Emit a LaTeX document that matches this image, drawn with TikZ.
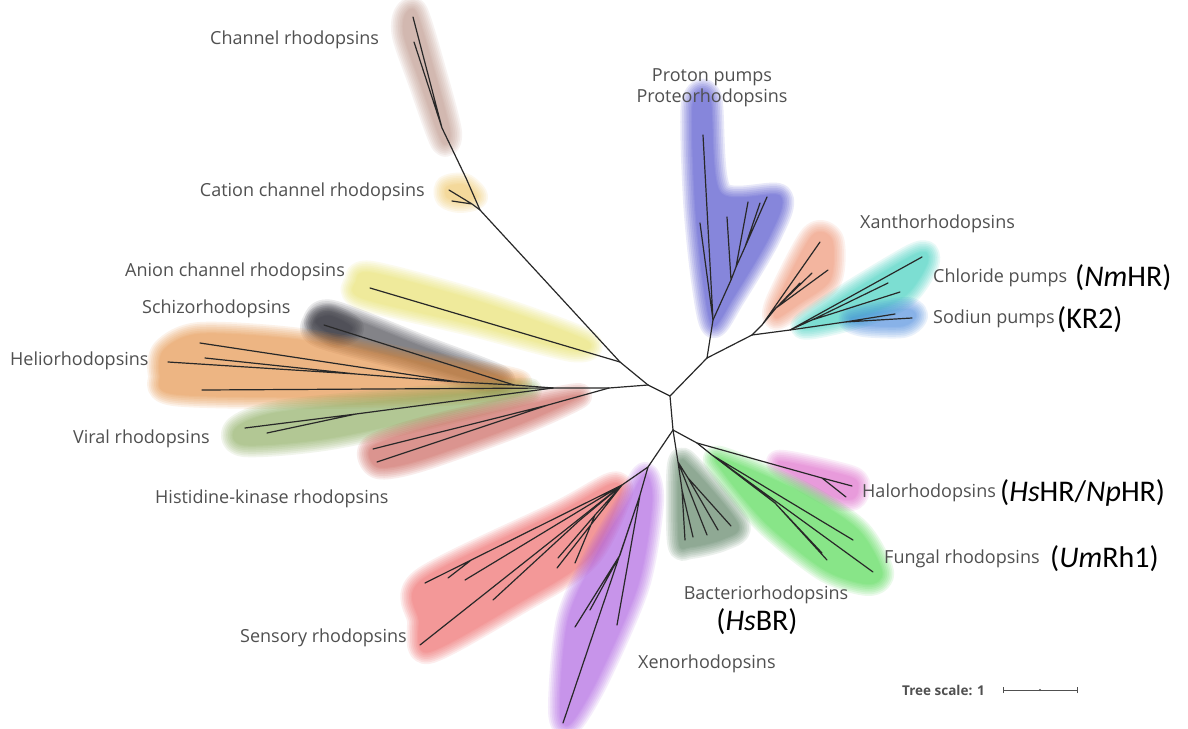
\documentclass[tikz,border=0pt]{standalone}
\usepackage{fontspec}
\newfontfamily\osans{Open Sans}
\newfontfamily\calib{Carlito}
\definecolor{labgray}{RGB}{80,80,80}
\definecolor{treec}{RGB}{40,40,40}
\definecolor{cChan}{RGB}{185,140,125}
\definecolor{cCat}{RGB}{240,195,90}
\definecolor{cAn}{RGB}{232,225,90}
\definecolor{cSch}{RGB}{50,50,60}
\definecolor{cHel}{RGB}{230,135,50}
\definecolor{cVir}{RGB}{130,165,80}
\definecolor{cHis}{RGB}{200,80,70}
\definecolor{cPro}{RGB}{55,55,200}
\definecolor{cXan}{RGB}{238,135,100}
\definecolor{cClo}{RGB}{40,205,185}
\definecolor{cNa}{RGB}{60,130,220}
\definecolor{cHal}{RGB}{220,90,200}
\definecolor{cFun}{RGB}{60,215,60}
\definecolor{cBac}{RGB}{70,115,80}
\definecolor{cSen}{RGB}{238,85,85}
\definecolor{cXen}{RGB}{165,80,225}
\newcommand\softblob[2]{%
  \foreach \w in {24,20.5,17,13.5,10,6.5,3,0.5}{%
    \begin{scope}[transparency group, opacity=0.105]
    \filldraw[fill=#1,draw=#1,line width=\w pt,line join=round]
      plot[smooth cycle,tension=0.5] coordinates {#2};
    \end{scope}}%
}
\tikzset{
  tree/.style={draw=treec, line width=1.2pt, line cap=round, line join=round},
  lab/.style={font=\osans\fontsize{18}{20}\selectfont, text=labgray, inner sep=0pt},
  blk/.style={font=\calib\fontsize{30}{34}\selectfont, text=black, inner sep=0pt},
}
\begin{document}
\begin{tikzpicture}[x=1pt,y=-1pt]
\useasboundingbox (0,0) rectangle (1188,728);
\fill[white] (0,0) rectangle (1188,728);

% ---------- soft clade backgrounds ----------
\softblob{cChan}{(405,15) (416,12) (434,70) (450,132) (442,142) (420,82) (404,36)}
\softblob{cCat}{(447,187) (464,185) (476,197) (460,201) (447,197)}
\softblob{cAn}{(356,282) (372,273) (480,302) (585,340) (572,350) (470,324) (362,298)}
\softblob{cSch}{(314,322) (332,312) (420,346) (500,377) (485,383) (400,358) (320,336)}
\softblob{cSch}{(316,322) (330,316) (352,328) (336,336)}
\softblob{cHel}{(164,350) (200,334) (300,340) (420,362) (520,382) (460,393) (320,397) (174,394) (160,375)}
\softblob{cVir}{(236,428) (280,412) (420,398) (530,390) (460,410) (330,438) (244,445)}
\softblob{cHis}{(372,447) (430,427) (540,402) (580,396) (520,424) (420,460) (378,467)}
\softblob{cPro}{(693,104) (710,98) (720,192) (780,196) (770,235) (733,298) (713,326) (703,280) (695,200)}
\softblob{cXan}{(812,236) (832,240) (830,280) (800,303) (776,318) (778,300)}
\softblob{cClo}{(803,325) (912,256) (928,261) (906,295) (860,316)}
\softblob{cNa}{(852,318) (905,309) (916,316) (903,326) (864,325)}
\softblob{cHal}{(778,462) (850,477) (858,489) (852,499) (830,495)}
\softblob{cFun}{(720,458) (800,492) (858,530) (882,572) (868,584) (825,570) (767,524) (724,473)}
\softblob{cBac}{(679,465) (692,468) (738,524) (723,539) (690,547) (679,542)}
\softblob{cSen}{(422,580) (560,512) (612,484) (620,496) (588,558) (520,602) (428,652) (419,620)}
\softblob{cXen}{(645,474) (652,502) (638,585) (598,678) (570,724) (560,710) (568,620) (596,556) (628,502)}

% ---------- tree nodes ----------
\coordinate (A) at (648,385);
\coordinate (B) at (670,396);
\coordinate (C) at (673,430);
\coordinate (D) at (707,358);
% upper left
\coordinate (Q1) at (620,362);
\coordinate (Q2) at (480,210);
\coordinate (Q3) at (466,178);
\coordinate (Q4) at (442,128);
\coordinate (ch1) at (413,17);
\coordinate (ch2) at (414,42);
\coordinate (CJ) at (472,204);
\coordinate (cat1) at (449,190);
\coordinate (cat2) at (452,201);
\coordinate (an1) at (370,288);
% left
\coordinate (H1) at (609,388);
\coordinate (H2) at (553,388);
\coordinate (H3) at (514,385);
\coordinate (H4) at (458,382);
\coordinate (HJ) at (356,374);
\coordinate (hl1) at (200,343);
\coordinate (hl2) at (168,362);
\coordinate (hl3) at (205,358);
\coordinate (hl4) at (202,390);
\coordinate (sz) at (324,325);
\coordinate (R1) at (548,405);
\coordinate (hk1) at (373,449);
\coordinate (hk2) at (377,462);
\coordinate (V1) at (356,414);
\coordinate (vr1) at (245,428);
\coordinate (vr2) at (267,433);
% upper right
\coordinate (P0) at (713,320);
\coordinate (pl1) at (703,135);
\coordinate (pl2) at (700,223);
\coordinate (P2) at (731,280);
\coordinate (P3) at (736,267);
\coordinate (P4) at (745,247);
\coordinate (pr1) at (767,197);
\coordinate (pr2) at (727,217);
\coordinate (pr3) at (748,202);
\coordinate (pr4) at (760,203);
\coordinate (X0) at (752,335);
\coordinate (XA) at (762,325);
\coordinate (XB) at (776,308);
\coordinate (xa1) at (820,242);
\coordinate (xa2) at (828,270);
\coordinate (xa3) at (812,273);
\coordinate (xa4) at (800,283);
\coordinate (CL) at (790,330);
\coordinate (CL2) at (812,320);
\coordinate (cl1) at (922,257);
\coordinate (cl2) at (888,283);
\coordinate (cl3) at (900,292);
\coordinate (NA) at (845,322);
\coordinate (na1) at (912,318);
\coordinate (na2) at (895,314);
% lower
\coordinate (L1) at (648,467);
\coordinate (S0) at (622,485);
\coordinate (SB) at (470,561);
\coordinate (SC) at (580,520);
\coordinate (SD) at (595,515);
\coordinate (se1) at (425,583);
\coordinate (se2) at (448,578);
\coordinate (se3) at (465,580);
\coordinate (se4) at (420,645);
\coordinate (se5) at (493,600);
\coordinate (se6) at (557,568);
\coordinate (se7) at (558,558);
\coordinate (se8) at (575,563);
\coordinate (X1) at (640,495);
\coordinate (X2) at (620,555);
\coordinate (xe1) at (563,723);
\coordinate (xe2) at (575,627);
\coordinate (xe3) at (590,610);
\coordinate (xe4) at (617,625);
\coordinate (BA) at (678,462);
\coordinate (BB) at (682,490);
\coordinate (BC) at (688,478);
\coordinate (bb1) at (685,540);
\coordinate (bb2) at (693,537);
\coordinate (bb3) at (707,535);
\coordinate (bb4) at (718,530);
\coordinate (bb5) at (731,526);
\coordinate (HF) at (697,443);
\coordinate (HA) at (822,478);
\coordinate (ha1) at (852,486);
\coordinate (ha2) at (846,497);
\coordinate (FA) at (712,455);
\coordinate (FB) at (775,503);
\coordinate (fu1) at (853,540);
\coordinate (fu2) at (827,560);
\coordinate (fu3) at (822,553);
\coordinate (fu4) at (873,572);

% ---------- branches ----------
\draw[tree] (A) -- (B) (B) -- (D) (B) -- (C);
\draw[tree] (A) -- (Q1) -- (Q2) -- (Q3) -- (Q4) -- (ch1) (Q4) -- (ch2);
\draw[tree] (Q2) -- (CJ) -- (cat1) (CJ) -- (cat2);
\draw[tree] (Q1) -- (an1);
\draw[tree] (A) -- (H1) -- (H2) -- (H3) -- (H4) -- (hl1) (H4) -- (HJ) -- (hl2) (HJ) -- (hl3);
\draw[tree] (H3) -- (sz) (H2) -- (hl4);
\draw[tree] (H1) -- (R1) -- (hk1) (R1) -- (hk2);
\draw[tree] (H2) -- (V1) -- (vr1) (V1) -- (vr2);
\draw[tree] (D) -- (P0) -- (pl1) (P0) -- (pl2);
\draw[tree] (P0) -- (P2) -- (P3) -- (P4) -- (pr1) (P2) -- (pr2) (P3) -- (pr3) (P4) -- (pr4);
\draw[tree] (D) -- (X0) -- (XA) -- (xa1) (XA) -- (XB) -- (xa2) (XB) -- (xa3) (XB) -- (xa4);
\draw[tree] (X0) -- (CL) -- (cl1) (CL) -- (CL2) -- (cl2) (CL2) -- (cl3);
\draw[tree] (CL) -- (NA) -- (na1) (NA) -- (na2);
\draw[tree] (C) -- (L1) -- (S0) -- (se1) (SB) -- (se2) (S0) -- (se3) (S0) -- (se4);
\draw[tree] (S0) -- (SC) -- (se5) (S0) -- (se6) (S0) -- (SD) -- (se7) (SD) -- (se8);
\draw[tree] (L1) -- (X1) -- (xe1) (X1) -- (X2) -- (xe2) (X2) -- (xe3) (X1) -- (xe4);
\draw[tree] (C) -- (BA) -- (BB) -- (bb1) (BB) -- (bb2) (BA) -- (bb3) (BA) -- (BC) -- (bb4) (BC) -- (bb5);
\draw[tree] (C) -- (HF) -- (HA) -- (ha1) (HA) -- (ha2);
\draw[tree] (HF) -- (FA) -- (fu1) (FA) -- (FB) -- (fu2) (FB) -- (fu3) (FA) -- (fu4);

% ---------- labels ----------
\node[lab, anchor=base west] (lchan) at (210,44) {Channel rhodopsins};
\node[lab, anchor=base east] (lcat) at (425,196) {Cation channel rhodopsins};
\node[lab, anchor=base] (lpp) at (712,81) {Proton pumps};
\node[lab, anchor=base] (lpr) at (712,102) {Proteorhodopsins};
\node[lab, anchor=base west] (lxan) at (860,228) {Xanthorhodopsins};
\node[lab, anchor=base west] (lclo) at (933,282) {Chloride pumps};
\node[blk, anchor=base west] (bclo) at (1075,286) {(\textit{Nm}HR)};
\node[lab, anchor=base west] (lna) at (933,323) {Sodiun pumps};
\node[blk, anchor=base west] (bna) at (1057,328) {(KR2)};
\node[lab, anchor=base west] (lan) at (125,276) {Anion channel rhodopsins};
\node[lab, anchor=base west] (lsch) at (142,313) {Schizorhodopsins};
\node[lab, anchor=base west] (lhel) at (10,365) {Heliorhodopsins};
\node[lab, anchor=base west] (lvir) at (73,443) {Viral rhodopsins};
\node[lab, anchor=base west] (lhis) at (155,503) {Histidine-kinase rhodopsins};
\node[lab, anchor=base west] (lhal) at (862,497) {Halorhodopsins};
\node[blk, anchor=base west] (bhal) at (1000,501) {(\textit{Hs}HR/\textit{Np}HR)};
\node[lab, anchor=base west] (lfun) at (884,563) {Fungal rhodopsins};
\node[blk, anchor=base west] (bfun) at (1050,567) {(\textit{Um}Rh1)};
\node[lab, anchor=base] (lbac) at (766,599) {Bacteriorhodopsins};
\node[blk, anchor=base] (bbac) at (757,630) {(\textit{Hs}BR)};
\node[lab, anchor=base west] (lsen) at (240,642) {Sensory rhodopsins};
\node[lab, anchor=base west] (lxen) at (638,668) {Xenorhodopsins};

% ---------- tree scale ----------
\node[font=\osans\bfseries\fontsize{13.5}{15}\selectfont, text=labgray, anchor=base west, inner sep=0pt] (tscale) at (902,695) {Tree scale: 1};
\coordinate (sb1) at (1003,690);
\coordinate (sb2) at (1077,690);
\coordinate (sbm) at (1040,690);
\draw[labgray, line width=1pt] (sb1) -- (sb2);
\draw[labgray, line width=1pt] ([yshift=-3pt]sb1) -- ([yshift=3pt]sb1) ([yshift=-3pt]sb2) -- ([yshift=3pt]sb2);
\fill[labgray] (sbm) circle (1.2pt);
\end{tikzpicture}
\end{document}
